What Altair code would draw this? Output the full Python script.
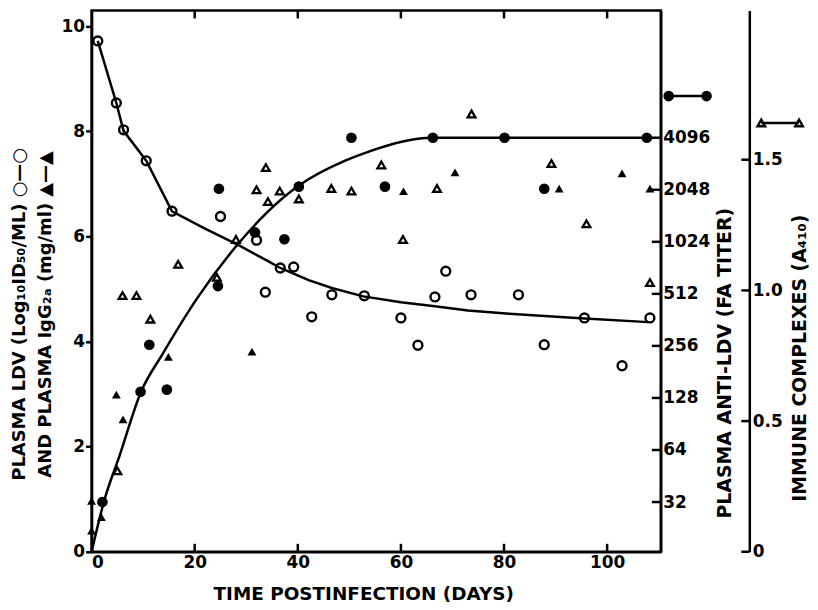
import altair as alt
import pandas as pd

# ---------------- data ----------------
# Plasma LDV (log10 ID50/ml) - open circles
ldv_day = [1.2, 4.8, 6.2, 10.6, 15.6, 25.0, 32.0, 33.7, 36.6, 39.2, 42.7, 46.6, 52.9,
           60.0, 63.3, 66.6, 68.7, 73.6, 82.8, 87.8, 95.6, 102.9, 108.3]
ldv_log = [9.72, 8.54, 8.03, 7.44, 6.48, 6.38, 5.93, 4.94, 5.40, 5.42, 4.47, 4.89, 4.87,
           4.45, 3.93, 4.85, 5.34, 4.89, 4.89, 3.94, 4.45, 3.54, 4.45]
# LDV curve
ldv_line_day = [1.2, 4.8, 6.2, 10.6, 15.6, 22.0, 28.6, 34.4, 36.6, 42.1, 46.6, 52.7, 60.0,
                66.6, 73.0, 81.0, 94.0, 108.0]
ldv_line_val = [9.72, 8.54, 8.01, 7.44, 6.48, 6.15, 5.83, 5.52, 5.40, 5.17, 5.02, 4.86, 4.75,
                4.67, 4.59, 4.53, 4.45, 4.37]
# Plasma IgG2a (mg/ml) - filled triangles
igg_day = [0.0, 0.0, 1.9, 4.8, 6.1, 14.9, 31.1, 60.5, 70.5, 90.7, 102.9, 108.3]
igg_val = [0.97, 0.40, 0.66, 2.99, 2.52, 3.71, 3.81, 6.86, 7.22, 6.91, 7.20, 6.91]
# Plasma anti-LDV (FA titer) - filled circles
ab_day = [2.1, 9.5, 11.2, 14.6, 24.5, 24.7, 31.7, 37.4, 40.2, 50.4, 56.9, 66.2, 80.1, 87.8, 107.7]
ab_titer = [32, 139, 260, 143, 568, 2075, 1160, 1060, 2135, 4096, 2135, 4096, 4096, 2075, 4096]
# anti-LDV curve
ab_line_day = [0.0, 2.5, 5.4, 9.6, 13.7, 20.5, 28.0, 33.8, 40.2, 49.2, 53.1, 63.3, 66.2, 80.1, 107.7]
ab_line_titer = [16.5, 33, 59, 139, 228, 484, 962, 1490, 2165, 3020, 3350, 4040, 4096, 4096, 4096]
# Immune complexes (A410) - open triangles
ic_day = [5.0, 11.4, 6.0, 8.7, 16.8, 24.3, 28.0, 32.0, 33.8, 34.2, 36.5, 40.2, 46.5, 50.4,
          56.2, 60.4, 67.0, 73.7, 89.2, 96.0, 108.3]
ic_a410 = [0.31, 0.89, 0.98, 0.98, 1.10, 1.05, 1.195, 1.385, 1.47, 1.34, 1.38, 1.35, 1.39, 1.38,
           1.48, 1.195, 1.39, 1.675, 1.485, 1.255, 1.03]

# tick labels
x_ticks = [0, 20, 40, 60, 80, 100]
left_ticks = [0, 2, 4, 6, 8, 10]
titer_ticks = [32, 64, 128, 256, 512, 1024, 2048, 4096]
ic_ticks = [0, 0.5, 1.0, 1.5]

X_DOMAIN = [0, 110.4]
LEFT_DOMAIN = [0, 10.30]
TITER_DOMAIN = [16.5, 22300]
IC_DOMAIN = [0, 2.071]

W, H = 572, 544
IC_OFFSET = 89
FONT = "DejaVu Sans"

ldv_df = pd.DataFrame({"day": ldv_day, "v": ldv_log})
ldv_line_df = pd.DataFrame({"day": ldv_line_day, "v": ldv_line_val})
igg_df = pd.DataFrame({"day": igg_day, "v": igg_val})
ab_df = pd.DataFrame({"day": ab_day, "titer": ab_titer})
ab_line_df = pd.DataFrame({"day": ab_line_day, "titer": ab_line_titer})
ic_df = pd.DataFrame({"day": ic_day, "a": ic_a410})
xt_df = pd.DataFrame({"day": x_ticks[1:]})
tt_df = pd.DataFrame({"titer": titer_ticks})
it_df = pd.DataFrame({"a": ic_ticks})
one = pd.DataFrame({"k": [0]})

xscale = alt.Scale(domain=X_DOMAIN, nice=False, zero=False)
x_axis = alt.Axis(values=x_ticks, tickSize=0, labelPadding=3, format="d",
                  title="TIME POSTINFECTION (DAYS)", titleFontSize=18.5,
                  titleX=273, titleY=42, titleBaseline="middle", titleAlign="center")
X_main = alt.X("day:Q", scale=xscale, axis=x_axis)
X_plain = alt.X("day:Q", scale=xscale)

lscale = alt.Scale(domain=LEFT_DOMAIN, nice=False, zero=False)
l_axis = alt.Axis(values=left_ticks, tickSize=6, labelPadding=1, orient="left",
                  title=["PLASMA LDV (Log₁₀ID₅₀/ML) ○—○", "AND PLASMA IgG₂ₐ (mg/ml) ▲—▲"],
                  titleAngle=270, titleX=-81, titleY=305, titleAlign="center",
                  titleBaseline="top", titleLineHeight=26, titleFontSize=18)

ldv_pts = alt.Chart(ldv_df).mark_point(shape="circle", filled=False, color="black",
                                       strokeWidth=2.4, size=80, opacity=1).encode(
    x=X_main, y=alt.Y("v:Q", scale=lscale, axis=l_axis))
ldv_line = alt.Chart(ldv_line_df).mark_line(color="black", strokeWidth=2.5,
                                            interpolate="linear").encode(
    x=X_plain, y=alt.Y("v:Q", scale=lscale))
igg_pts = alt.Chart(igg_df).mark_point(shape="triangle-up", filled=True, color="black",
                                       size=80, opacity=1).encode(
    x=X_plain, y=alt.Y("v:Q", scale=lscale))
xt_bottom = alt.Chart(xt_df).mark_rule(color="black", strokeWidth=2.5).encode(
    x=X_plain, y=alt.value(H), y2=alt.value(H - 8))
xt_top = alt.Chart(xt_df).mark_rule(color="black", strokeWidth=2.5).encode(
    x=X_plain, y=alt.value(0), y2=alt.value(8))

left = alt.layer(ldv_pts, ldv_line, igg_pts, xt_bottom, xt_top)

# titer layer
tscale = alt.Scale(type="log", base=2, domain=TITER_DOMAIN, nice=False)
t_axis = alt.Axis(values=titer_ticks, format="d", orient="right", tickSize=0, labelPadding=2,
                  title="PLASMA ANTI-LDV (FA TITER)", titleAngle=270, titleX=64, titleY=354,
                  titleAlign="center", titleBaseline="middle", titleFontSize=19)
ab_pts = alt.Chart(ab_df).mark_circle(color="black", size=115, opacity=1).encode(
    x=X_plain, y=alt.Y("titer:Q", scale=tscale, axis=t_axis))
ab_line = alt.Chart(ab_line_df).mark_line(color="black", strokeWidth=2.5,
                                          interpolate="monotone").encode(
    x=X_plain, y=alt.Y("titer:Q", scale=tscale))
tt_rules = alt.Chart(tt_df).mark_rule(color="black", strokeWidth=2.5).encode(
    y=alt.Y("titer:Q", scale=tscale), x=alt.value(W - 9), x2=alt.value(W))
leg1_line = alt.Chart(one).mark_rule(color="black", strokeWidth=2.5).encode(
    x=alt.value(580), x2=alt.value(618), y=alt.value(86))
leg1_a = alt.Chart(one).mark_circle(color="black", size=115, opacity=1).encode(
    x=alt.value(580), y=alt.value(86))
leg1_b = alt.Chart(one).mark_circle(color="black", size=115, opacity=1).encode(
    x=alt.value(618), y=alt.value(86))
titer = alt.layer(ab_pts, ab_line, tt_rules, leg1_line, leg1_a, leg1_b)

# immune complexes layer
iscale = alt.Scale(domain=IC_DOMAIN, nice=False, zero=False)
i_axis = alt.Axis(values=ic_ticks, orient="right", offset=IC_OFFSET, tickSize=0, labelPadding=3,
                  labelExpr="datum.value == 0 ? '0' : format(datum.value, '.1f')",
                  title="IMMUNE COMPLEXES (A₄₁₀)", titleAngle=270, titleX=50, titleY=349,
                  titleAlign="center", titleBaseline="middle", titleFontSize=19)
ic_pts = alt.Chart(ic_df).mark_point(shape="triangle-up", filled=False, color="black",
                                     strokeWidth=2.3, size=60, opacity=1).encode(
    x=X_plain, y=alt.Y("a:Q", scale=iscale, axis=i_axis))
it_rules = alt.Chart(it_df).mark_rule(color="black", strokeWidth=2.5).encode(
    y=alt.Y("a:Q", scale=iscale), x=alt.value(W + IC_OFFSET - 8),
    x2=alt.value(W + IC_OFFSET))
leg2_line = alt.Chart(one).mark_rule(color="black", strokeWidth=2.5).encode(
    x=alt.value(673), x2=alt.value(711), y=alt.value(113))
leg2_a = alt.Chart(one).mark_point(shape="triangle-up", filled=False, color="black",
                                   strokeWidth=2.3, size=60, opacity=1).encode(
    x=alt.value(673), y=alt.value(113))
leg2_b = alt.Chart(one).mark_point(shape="triangle-up", filled=False, color="black",
                                   strokeWidth=2.3, size=60, opacity=1).encode(
    x=alt.value(711), y=alt.value(113))
immune = alt.layer(ic_pts, it_rules, leg2_line, leg2_a, leg2_b)

chart = alt.layer(left, titer, immune).resolve_scale(y="independent").properties(
    width=W, height=H,
    autosize=alt.AutoSizeParams(type="none"),
    padding={"left": 84, "top": 1, "right": 150, "bottom": 52},
    background="white",
).configure_view(stroke="black", strokeWidth=2.5).configure_axis(
    grid=False, labelFont=FONT, labelFontWeight="bold", labelFontSize=17, labelColor="black",
    titleFont=FONT, titleFontWeight="bold", titleColor="black",
    domainColor="black", domainWidth=2.5, tickColor="black", tickWidth=2.5,
)

chart.save("out.html", embed_options={"renderer": "svg", "actions": False})
